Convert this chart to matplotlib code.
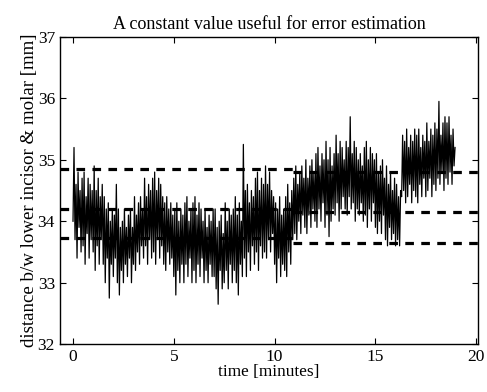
import numpy as np
import matplotlib
matplotlib.use("Agg")
import matplotlib.pyplot as plt

# distance readings, one every 0.05 min (row = half a minute)
dist = [
    34.0, 35.2, 33.7, 34.6, 33.4, 34.8, 33.9, 34.5, 33.5, 34.7,
    33.6, 34.8, 33.3, 34.4, 33.8, 34.7, 33.4, 34.6, 33.7, 34.5,
    33.5, 34.9, 33.2, 34.5, 33.6, 34.7, 33.3, 34.4, 33.7, 34.6,
    33.3, 34.4, 33.0, 34.2, 33.4, 34.3, 32.75, 34.0, 33.3, 34.2,
    33.1, 34.1, 33.4, 34.6, 33.0, 34.2, 32.8, 33.9, 33.2, 34.0,
    33.0, 34.2, 33.3, 33.9, 33.1, 34.1, 33.4, 34.2, 33.0, 33.9,
    33.3, 34.4, 33.2, 34.1, 33.5, 34.3, 33.3, 34.4, 33.6, 34.2,
    33.4, 34.7, 33.6, 34.4, 33.3, 34.6, 33.7, 34.5, 33.4, 34.7,
    33.5, 34.8, 33.3, 34.5, 33.7, 34.7, 33.4, 34.6, 33.6, 34.4,
    33.3, 34.3, 33.2, 34.4, 33.5, 34.2, 33.3, 34.3, 33.4, 34.1,
    33.1, 34.2, 32.8, 34.3, 33.2, 34.0, 33.0, 34.2, 33.3, 34.1,
    33.0, 34.3, 33.3, 34.4, 33.1, 34.0, 33.4, 34.2, 33.0, 34.3,
    33.2, 34.4, 33.0, 34.1, 33.3, 34.3, 33.1, 34.2, 33.4, 34.0,
    33.0, 34.2, 33.2, 33.9, 33.0, 34.1, 33.3, 34.0, 33.1, 34.2,
    33.1, 34.2, 32.9, 33.9, 32.65, 34.0, 33.2, 34.1, 32.9, 33.8,
    33.0, 34.3, 33.2, 34.0, 32.9, 34.2, 33.3, 34.1, 33.0, 34.2,
    33.2, 34.4, 33.0, 34.1, 32.8, 34.3, 33.3, 34.0, 33.1, 35.25,
    33.4, 34.5, 33.1, 34.6, 33.5, 34.3, 33.2, 34.5, 33.6, 34.4,
    33.3, 34.7, 33.5, 34.8, 33.2, 34.5, 33.6, 34.7, 33.4, 34.6,
    33.5, 34.9, 33.4, 34.6, 33.7, 34.8, 33.5, 34.5, 33.8, 34.4,
    33.3, 34.3, 33.0, 34.2, 33.4, 34.4, 33.1, 34.1, 33.3, 34.2,
    33.2, 34.4, 33.1, 34.6, 33.5, 34.3, 33.3, 34.5, 33.7, 34.7,
    33.8, 34.9, 33.7, 34.6, 34.0, 34.8, 33.8, 34.9, 34.1, 34.7,
    33.9, 35.0, 33.8, 34.7, 34.1, 34.9, 33.9, 35.0, 34.2, 34.8,
    34.0, 35.1, 33.9, 35.2, 34.2, 34.9, 34.0, 35.1, 34.3, 35.0,
    33.9, 35.3, 34.1, 35.0, 33.75, 35.2, 34.0, 34.9, 34.2, 35.1,
    34.1, 35.4, 34.3, 35.1, 34.0, 35.3, 34.2, 35.2, 34.4, 35.0,
    34.2, 35.3, 34.1, 35.2, 34.4, 35.7, 34.2, 35.1, 34.3, 35.3,
    34.0, 35.2, 34.2, 35.0, 34.1, 35.1, 34.3, 34.9, 34.0, 35.2,
    34.1, 35.3, 33.9, 35.0, 34.2, 35.2, 34.0, 35.1, 34.3, 35.0,
    33.9, 35.1, 33.8, 34.8, 34.0, 34.9, 33.8, 35.0, 34.1, 34.7,
    33.7, 34.9, 33.6, 34.6, 33.9, 34.8, 33.7, 34.5, 33.8, 34.7,
    33.6, 34.6, 33.7, 34.4, 33.6, 34.5, 34.4, 35.4, 34.5, 35.3,
    34.3, 35.5, 34.4, 35.2, 34.6, 35.4, 34.3, 35.3, 34.5, 35.5,
    34.4, 35.4, 34.3, 35.5, 34.6, 35.2, 34.4, 35.4, 34.7, 35.3,
    34.4, 35.6, 34.5, 35.3, 34.7, 35.5, 34.4, 35.4, 34.6, 35.6,
    34.5, 35.5, 34.7, 35.95, 34.6, 35.4, 34.8, 35.6, 34.5, 35.7,
    34.7, 35.6, 34.6, 35.7, 34.8, 35.4, 34.6, 35.5, 34.9, 35.2,
]
t_step = 0.05

# constant-value levels (upper, mean, lower) before and after the break
split_t = 10.9
levels_before = [34.85, 34.2, 33.72]
levels_after = [34.8, 34.15, 33.65]

x_lo, x_hi = -0.65, 20.1

plt.rcParams['font.family'] = ['Liberation Serif', 'DejaVu Serif']

fig = plt.figure(figsize=(4.87, 3.92), dpi=100)
ax = fig.add_axes([0.123, 0.122, 0.859, 0.784])

t = np.arange(len(dist)) * t_step
ax.plot(t, dist, color='black', linewidth=0.9)

for lv in levels_before:
    ax.plot([x_lo, split_t], [lv, lv], color='black', linewidth=2.3,
            linestyle=(0, (2.7, 2.3)))
for lv in levels_after:
    ax.plot([split_t, x_hi], [lv, lv], color='black', linewidth=2.3,
            linestyle=(0, (2.7, 2.3)))

ax.set_xlim(x_lo, x_hi)
ax.set_ylim(32, 37)
ax.set_xticks([0, 5, 10, 15, 20])
ax.set_yticks([32, 33, 34, 35, 36, 37])
ax.tick_params(direction='in', top=True, right=True, labelsize=12.5, length=4)
for s in ax.spines.values():
    s.set_linewidth(1.0)

ax.set_title('A constant value useful for error estimation', fontsize=13, pad=6)
ax.set_xlabel('time [minutes]', fontsize=12.4, labelpad=-1)
ax.set_ylabel('distance b/w lower incisor & molar [mm]', fontsize=13.6, labelpad=0)

fig.savefig('out.png', dpi=100)
